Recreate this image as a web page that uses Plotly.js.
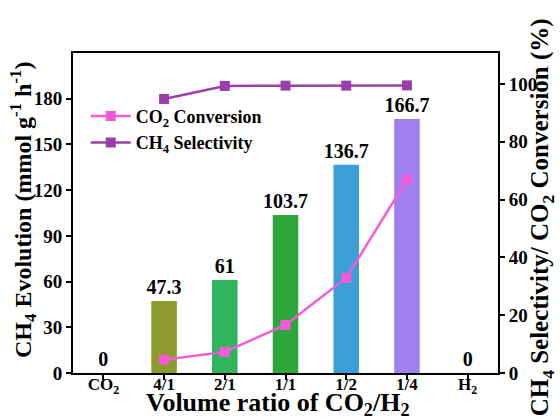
<!DOCTYPE html>
<html>
<head>
<meta charset="utf-8">
<script src="https://cdn.plot.ly/plotly-3.0.1.min.js"></script>
<style>html,body{margin:0;padding:0;background:#fff;}#chart{width:560px;height:419px;}</style>
</head>
<body>
<div id="chart"></div>
<script>
const categories = ['CO2', '4/1', '2/1', '1/1', '1/2', '1/4', 'H2'];
const tickLabels = ['CO<sub>2</sub>', '4/1', '2/1', '1/1', '1/2', '1/4', 'H<sub>2</sub>'];
const ch4Evolution = [0, 47.3, 61, 103.7, 136.7, 166.7, 0];
const barLabels = ['0', '47.3', '61', '103.7', '136.7', '166.7', '0'];
const barColors = ['#8c9a2b', '#8c9a2b', '#2fb55e', '#2ba73b', '#38a0d6', '#a07ff1', '#a07ff1'];
const ratioCats = ['4/1', '2/1', '1/1', '1/2', '1/4'];
const co2Conversion = [4.6, 7.3, 16.6, 32.9, 66.8];
const ch4Selectivity = [94.8, 99.3, 99.4, 99.4, 99.5];

const font = {family: 'Liberation Serif, Times New Roman, serif', color: '#000', weight: 'bold'};
const f = (s) => Object.assign({}, font, {size: s});

const traces = [
  {
    type: 'bar', x: categories, y: ch4Evolution, text: barLabels,
    textposition: 'outside', texttemplate: '%{text}', cliponaxis: false,
    constraintext: 'none', textangle: 0,
    textfont: f(20), outsidetextfont: f(20),
    marker: {color: barColors}, width: 0.42, showlegend: false, hoverinfo: 'skip'
  },
  {
    type: 'scatter', mode: 'lines+markers', x: ratioCats, y: co2Conversion, yaxis: 'y2',
    name: 'CO<sub>2</sub> Conversion',
    line: {color: '#f75ad8', width: 2.5},
    marker: {symbol: 'square', size: 10, color: '#f75ad8'}
  },
  {
    type: 'scatter', mode: 'lines+markers', x: ratioCats, y: ch4Selectivity, yaxis: 'y2',
    name: 'CH<sub>4</sub> Selectivity',
    line: {color: '#9a3fa9', width: 2.5},
    marker: {symbol: 'square', size: 10, color: '#9a3fa9'}
  }
];

const layout = {
  width: 560, height: 419,
  margin: {l: 73, r: 62, t: 53, b: 46},
  paper_bgcolor: '#fff', plot_bgcolor: '#fff',
  font: f(16),
  xaxis: {
    type: 'category', categoryorder: 'array', categoryarray: categories,
    tickvals: categories, ticktext: tickLabels,
    range: [-0.5, 6.5],
    showline: true, linewidth: 2, linecolor: '#000', mirror: true,
    ticks: 'outside', ticklen: 5, tickwidth: 2, tickcolor: '#000',
    ticklabelstandoff: -10,
    showgrid: false, zeroline: false,
    tickfont: f(17)
  },
  yaxis: {
    range: [0, 210], tickvals: [0, 30, 60, 90, 120, 150, 180],
    showline: true, linewidth: 2, linecolor: '#000',
    ticks: 'outside', ticklen: 5, tickwidth: 2, tickcolor: '#000',
    showgrid: false, zeroline: false,
    tickfont: f(19)
  },
  yaxis2: {
    overlaying: 'y', side: 'right',
    range: [0, 110.7], tickvals: [0, 20, 40, 60, 80, 100],
    showline: true, linewidth: 2, linecolor: '#000',
    ticks: 'outside', ticklen: 5, tickwidth: 2, tickcolor: '#000',
    showgrid: false, zeroline: false,
    tickfont: f(19)
  },
  legend: {
    x: 0.03, y: 0.86, xanchor: 'left', yanchor: 'top',
    bgcolor: 'rgba(0,0,0,0)', font: f(18),
    tracegroupgap: 0, itemwidth: 40
  },
  annotations: [
    {
      xref: 'paper', yref: 'paper', x: 0.482, y: -0.097, xanchor: 'center', yanchor: 'middle',
      text: 'Volume ratio of CO<sub>2</sub>/H<sub>2</sub>', showarrow: false, font: f(26)
    },
    {
      xref: 'paper', yref: 'paper', x: -0.118, y: 0.509, xanchor: 'center', yanchor: 'middle',
      textangle: -90,
      text: 'CH<sub>4</sub> Evolution (mmol g<sup>-1</sup> h<sup>-1</sup>)', showarrow: false, font: f(24)
    },
    {
      xref: 'paper', yref: 'paper', x: 1.102, y: 0.4875, xanchor: 'center', yanchor: 'middle',
      textangle: -90,
      text: 'CH<sub>4</sub> Selectivity/ CO<sub>2</sub> Conversion (%)', showarrow: false, font: f(25)
    }
  ]
};

Plotly.newPlot('chart', traces, layout, {displayModeBar: false, staticPlot: true});
</script>
</body>
</html>
